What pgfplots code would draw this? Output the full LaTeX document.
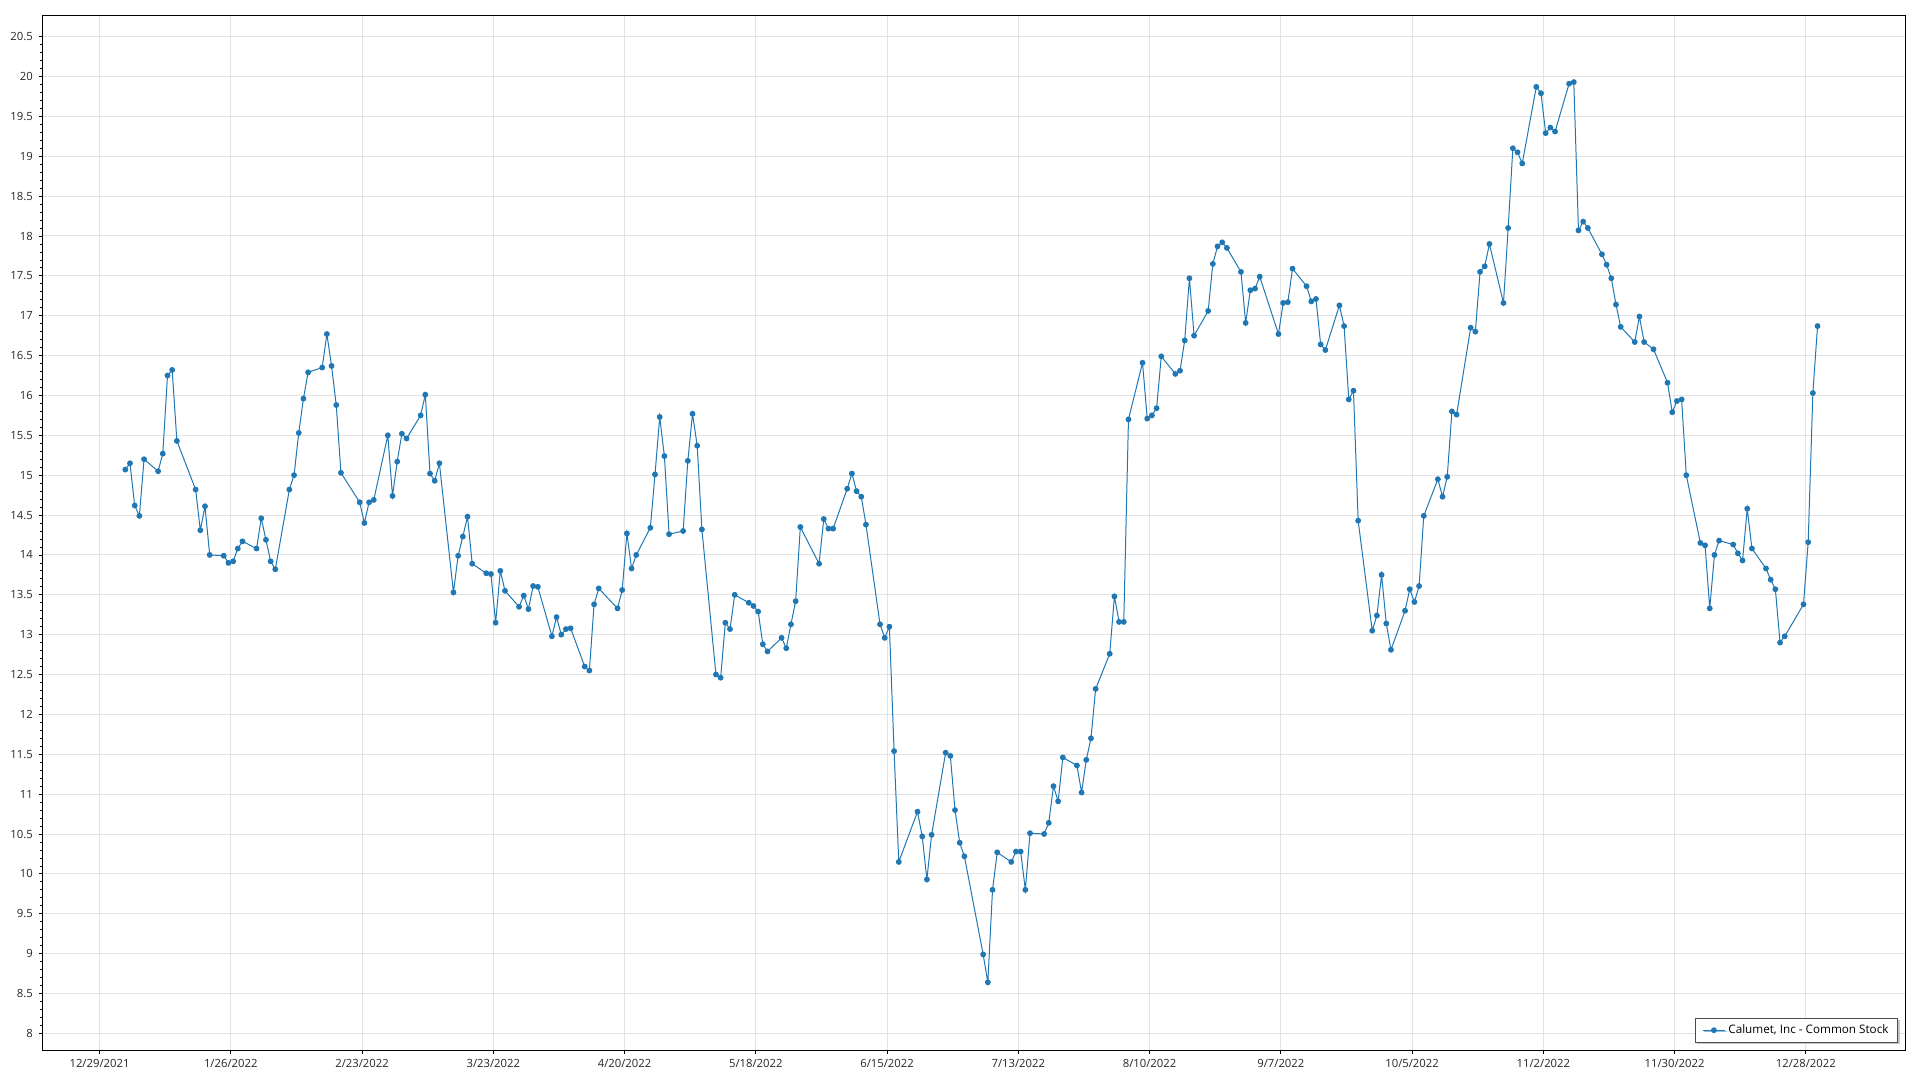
\documentclass[border=0pt]{standalone}
\usepackage{fontspec}
\setmainfont{Open Sans}
\usepackage{pgfplots}
\usepackage{pgfplotstable}
\pgfplotsset{compat=1.18}
\usetikzlibrary{shadows}
\definecolor{ser}{HTML}{1F77B4}
\definecolor{gridc}{HTML}{E3E3E3}
\pgfplotstableread{
d v
5 15.07
6 15.15
7 14.62
8 14.49
9 15.20
12 15.05
13 15.27
14 16.25
15 16.32
16 15.43
20 14.82
21 14.31
22 14.61
23 14.00
26 13.99
27 13.90
28 13.92
29 14.08
30 14.17
33 14.08
34 14.46
35 14.19
36 13.92
37 13.82
40 14.82
41 15.00
42 15.53
43 15.96
44 16.29
47 16.35
48 16.77
49 16.37
50 15.88
51 15.03
55 14.66
56 14.40
57 14.66
58 14.69
61 15.50
62 14.74
63 15.17
64 15.52
65 15.46
68 15.75
69 16.01
70 15.02
71 14.93
72 15.15
75 13.53
76 13.99
77 14.23
78 14.48
79 13.89
82 13.77
83 13.76
84 13.15
85 13.80
86 13.55
89 13.35
90 13.49
91 13.32
92 13.61
93 13.60
96 12.98
97 13.22
98 13.00
99 13.07
100 13.08
103 12.60
104 12.55
105 13.38
106 13.58
110 13.33
111 13.56
112 14.27
113 13.83
114 14.00
117 14.34
118 15.01
119 15.73
120 15.24
121 14.26
124 14.30
125 15.18
126 15.77
127 15.37
128 14.32
131 12.50
132 12.46
133 13.15
134 13.07
135 13.50
138 13.40
139 13.36
140 13.29
141 12.88
142 12.79
145 12.96
146 12.83
147 13.13
148 13.42
149 14.35
153 13.89
154 14.45
155 14.33
156 14.33
159 14.83
160 15.02
161 14.80
162 14.73
163 14.38
166 13.13
167 12.96
168 13.10
169 11.54
170 10.15
174 10.78
175 10.47
176 9.93
177 10.49
180 11.52
181 11.48
182 10.80
183 10.39
184 10.22
188 8.99
189 8.64
190 9.80
191 10.27
194 10.15
195 10.28
196 10.28
197 9.80
198 10.51
201 10.50
202 10.64
203 11.10
204 10.91
205 11.46
208 11.36
209 11.02
210 11.43
211 11.70
212 12.32
215 12.76
216 13.48
217 13.16
218 13.16
219 15.70
222 16.41
223 15.71
224 15.75
225 15.84
226 16.49
229 16.27
230 16.31
231 16.69
232 17.47
233 16.75
236 17.06
237 17.65
238 17.87
239 17.92
240 17.85
243 17.55
244 16.91
245 17.32
246 17.34
247 17.49
251 16.77
252 17.16
253 17.17
254 17.59
257 17.37
258 17.18
259 17.21
260 16.64
261 16.57
264 17.13
265 16.87
266 15.95
267 16.06
268 14.43
271 13.05
272 13.24
273 13.75
274 13.14
275 12.81
278 13.30
279 13.57
280 13.41
281 13.61
282 14.49
285 14.95
286 14.73
287 14.98
288 15.80
289 15.76
292 16.85
293 16.80
294 17.55
295 17.62
296 17.90
299 17.16
300 18.10
301 19.10
302 19.05
303 18.91
306 19.87
307 19.79
308 19.29
309 19.36
310 19.31
313 19.91
314 19.93
315 18.07
316 18.18
317 18.10
320 17.77
321 17.64
322 17.47
323 17.14
324 16.86
327 16.67
328 16.99
329 16.67
331 16.58
334 16.16
335 15.79
336 15.93
337 15.95
338 15.00
341 14.15
342 14.12
343 13.33
344 14.00
345 14.18
348 14.13
349 14.02
350 13.93
351 14.58
352 14.08
355 13.83
356 13.69
357 13.57
358 12.90
359 12.98
363 13.38
364 14.16
365 16.03
366 16.87
}\stock
\begin{document}
\begin{tikzpicture}
\path[use as bounding box] (-0.441in,-0.309in) rectangle (19.559in,10.941in);
\begin{axis}[
  scale only axis,
  width=19.41in, height=10.781in,
  xmin=-12.2, xmax=385.3,
  ymin=7.787, ymax=20.767,
  xtick={0,28,...,364},
  xticklabels={12/29/2021,1/26/2022,2/23/2022,3/23/2022,4/20/2022,5/18/2022,6/15/2022,7/13/2022,8/10/2022,9/7/2022,10/5/2022,11/2/2022,11/30/2022,12/28/2022},
  ytick={8,8.5,...,20.5},
  minor y tick num=4,
  xtick pos=bottom, ytick pos=left,
  tick align=outside,
  major tick length=2.6pt,
  minor tick length=1.6pt,
  tick style={black, line width=0.6pt},
  grid=major,
  major grid style={gridc, line width=0.75pt},
  axis line style={black, line width=0.9pt},
  /pgf/number format/assume math mode=true,
  ticklabel style={font=\fontsize{8.5}{10}\selectfont, text=black!85},
  yticklabel style={xshift=-1pt},
  xticklabel style={yshift=-1pt},
  legend style={font=\fontsize{8.8}{10}\selectfont, draw=black!70, line width=0.7pt,
    fill=white, at={(0.996,0.0073)}, anchor=south east,
    drop shadow={shadow xshift=1.3pt, shadow yshift=-1.3pt, opacity=0.45},
    inner xsep=5pt, inner ysep=3pt},
  legend cell align=left,
]
\addplot[color=ser, line width=0.75pt, mark=*, mark size=1.8pt, mark options={fill=ser, draw=ser}]
  table[x expr=\thisrow{d}+0.5, y=v] {\stock};
\addlegendentry{Calumet, Inc - Common Stock}
\end{axis}
\end{tikzpicture}
\end{document}
